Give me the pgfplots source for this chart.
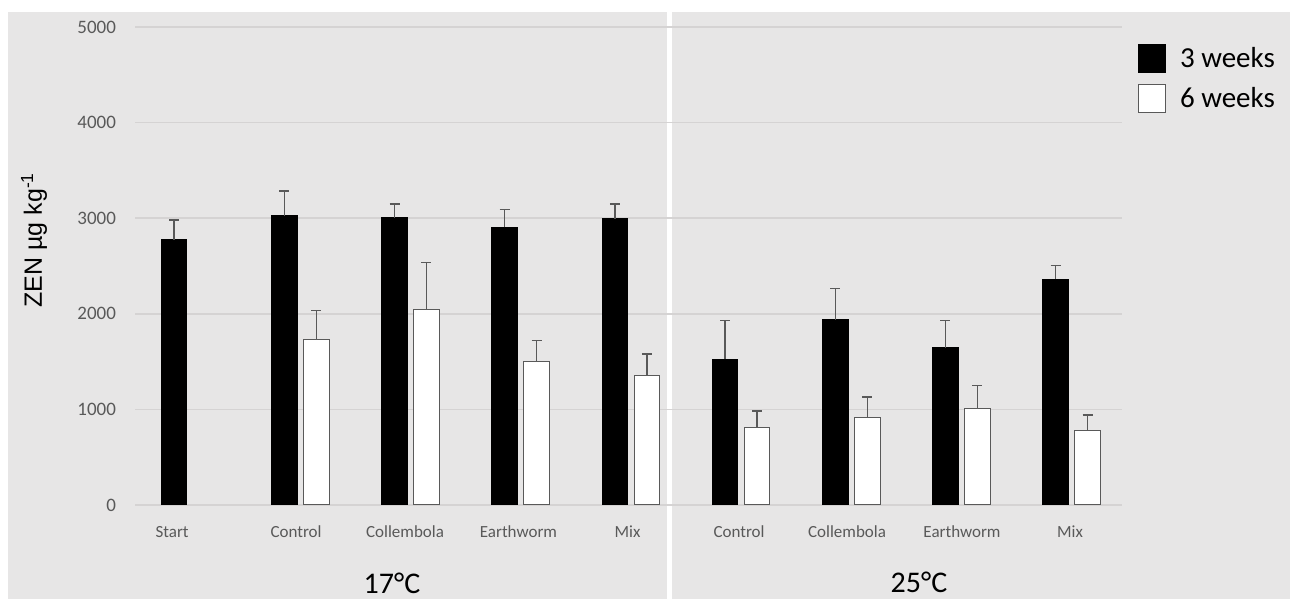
\documentclass[border=0pt]{standalone}
\usepackage{fontspec}
\setmainfont{Carlito}
\newfontfamily\arialfont{Liberation Sans}
\usepackage{pgfplots}
\pgfplotsset{compat=1.18}
\definecolor{bg}{HTML}{E7E6E6}
\definecolor{gridc}{HTML}{D5D3D3}
\definecolor{tickc}{HTML}{595959}
\definecolor{errc}{HTML}{595959}

\begin{document}
\begin{tikzpicture}
\useasboundingbox (0,0) rectangle (645pt,299.5pt);
\fill[white] (0,0) rectangle (645pt,299.5pt);
\fill[bg] (4pt,0) rectangle (645pt,293.5pt);
\fill[white] (333.5pt,0) rectangle (336pt,293.5pt);
\begin{axis}[
  at={(67.5pt,47pt)}, anchor=south west,
  scale only axis, width=493.5pt, height=239pt,
  xmin=-0.5, xmax=8.457, ymin=0, ymax=5000,
  ybar, bar width=0.232,
  axis line style={draw=none},
  major tick length=0pt,
  ytick={0,1000,2000,3000,4000,5000},
  xtick={-0.163,0.962,1.951,2.98,3.970,4.982,5.962,7.005,7.985},
  xticklabels={Start,Control,Collembola,Earthworm,Mix,Control,Collembola,Earthworm,Mix},
  ymajorgrids, grid style={draw=gridc, line width=0.75pt},
  tick label style={text=tickc},
  xticklabel style={font=\fontsize{8.5}{10}\selectfont, yshift=-7pt},
  yticklabel style={font=\fontsize{9.5}{11}\selectfont, xshift=-6pt},
  /pgf/number format/assume math mode=true,
  /pgf/number format/1000 sep={},
  ylabel={\arialfont ZEN µg kg\textsuperscript{-1}},
  ylabel style={at={(axis description cs:-0.1023,0.5544)}, anchor=center, font=\fontsize{12.5}{14}\selectfont},
  legend style={at={(axis description cs:1.0162,0.9644)}, anchor=north west,
    draw=none, fill=none, inner sep=0pt, outer sep=0pt, row sep=5.25pt,
    font=\fontsize{14.5}{17}\selectfont,
    nodes={inner sep=0pt, text height=11.6pt, text depth=2.4pt}},
  legend cell align=left,
  legend image code/.code={\draw[#1] (0pt,-7pt) rectangle (13.5pt,7pt); \path (20.5pt,0pt);},
]
\addplot[fill=black, draw=black, line width=0.5pt, bar shift=-0.145,
  error bars/.cd, y dir=plus, y explicit,
  error bar style={draw=errc, line width=0.65pt},
  error mark options={draw=errc, line width=0.65pt, mark size=2.5pt, rotate=90}]
  table[x=x, y=y, y error=e] {
x y e
0 2772 209
1 3026 259
2 3005 144
3 2904 189
4 2992 157
5 1524 404
6 1938 325
7 1646 287
8 2361 142
};
\addplot[fill=white, draw=tickc, line width=0.5pt, bar shift=0.145,
  error bars/.cd, y dir=plus, y explicit,
  error bar style={draw=errc, line width=0.65pt},
  error mark options={draw=errc, line width=0.65pt, mark size=2.5pt, rotate=90}]
  table[x=x, y=y, y error=e] {
x y e
1 1733 300
2 2050 489
3 1506 213
4 1353 227
5 809 174
6 913 217
7 1011 241
8 777 164
};
\legend{3 weeks, 6 weeks}
\end{axis}
\node[font=\fontsize{15}{18}\selectfont] at (196pt,8pt) {17°C};
\node[font=\fontsize{15}{18}\selectfont] at (459.5pt,8.5pt) {25°C};
\end{tikzpicture}
\end{document}
